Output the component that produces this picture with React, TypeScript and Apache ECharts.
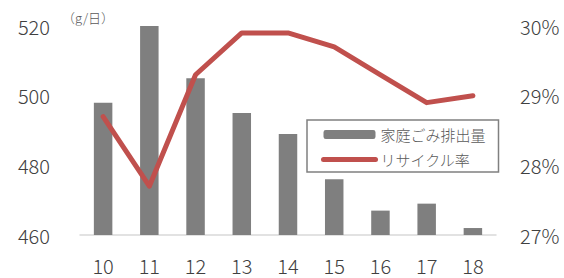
import React, { useEffect, useRef } from "react";
import * as echarts from "echarts";

const categories = ["10", "11", "12", "13", "14", "15", "16", "17", "18"];
const wasteValues = [498, 520, 505, 495, 489, 476, 467, 469, 462];
const recycleRates = [28.7, 27.7, 29.3, 29.9, 29.9, 29.7, 29.3, 28.9, 29.0];
const wasteName = "家庭ごみ排出量";
const rateName = "リサイクル率";
const unitLabel = "（g/日）";

const FONT = "'Noto Sans CJK JP', 'Noto Sans', sans-serif";

export default function App() {
  const ref = useRef<HTMLDivElement>(null);
  useEffect(() => {
    if (!ref.current) return;
    const chart = echarts.init(ref.current, undefined, { renderer: "svg" });
    chart.setOption({
      animation: false,
      textStyle: { fontFamily: FONT },
      grid: { left: 80, right: 68, top: 26, bottom: 43, containLabel: false },
      legend: {
        orient: "vertical",
        left: 307,
        top: 120,
        data: [
          { name: wasteName },
          {
            name: rateName,
            itemStyle: { color: "rgba(0,0,0,0)", borderWidth: 0 },
            lineStyle: { width: 5, cap: "round", color: "#C0504D" },
          },
        ],
        itemWidth: 52,
        itemHeight: 9,
        itemGap: 10,
        padding: [7, 13, 5, 14],
        borderColor: "#808080",
        borderWidth: 1.5,
        backgroundColor: "#fff",
        textStyle: { fontSize: 15, color: "#595959", fontFamily: FONT, fontWeight: 300 },
      },
      graphic: [
        {
          type: "text",
          left: 62,
          top: 11,
          style: { text: unitLabel, fontSize: 13, fill: "#595959", fontFamily: FONT, fontWeight: 300 },
        },
      ],
      xAxis: {
        type: "category",
        data: categories,
        axisLine: { show: true, lineStyle: { color: "#D9D9D9", width: 1.5 } },
        axisTick: { show: false },
        axisLabel: { fontSize: 20, color: "#404040", margin: 20, fontFamily: FONT, fontWeight: 300 },
      },
      yAxis: [
        {
          type: "value",
          min: 460,
          max: 520,
          interval: 20,
          splitLine: { show: false },
          axisLine: { show: false },
          axisTick: { show: false },
          axisLabel: { fontSize: 20, color: "#404040", margin: 30, fontFamily: FONT, fontWeight: 300 },
        },
        {
          type: "value",
          min: 27,
          max: 30,
          interval: 1,
          splitLine: { show: false },
          axisLine: { show: false },
          axisTick: { show: false },
          axisLabel: {
            fontSize: 20,
            color: "#404040",
            margin: 24,
            fontFamily: FONT,
            fontWeight: 300,
            formatter: (v: number) => `${v}%`,
          },
        },
      ],
      series: [
        {
          name: wasteName,
          type: "bar",
          data: wasteValues,
          barWidth: "40%",
          itemStyle: { color: "#7F7F7F" },
        },
        {
          name: rateName,
          type: "line",
          yAxisIndex: 1,
          data: recycleRates,
          symbol: "none",
          lineStyle: { color: "#C0504D", width: 5, cap: "round", join: "round" },
          itemStyle: { color: "#C0504D" },
          z: 3,
        },
      ],
    });
    return () => chart.dispose();
  }, []);
  return (
    <div
      ref={ref}
      style={{ position: "absolute", left: 0, top: 0, width: 564, height: 278 }}
    />
  );
}
